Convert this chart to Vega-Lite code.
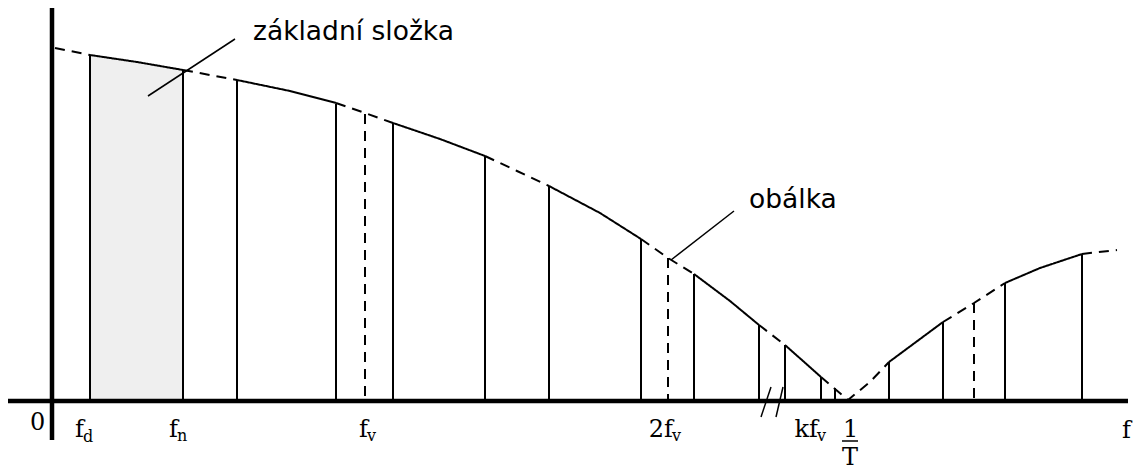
{
  "$schema": "https://vega.github.io/schema/vega-lite/v6.json",
  "width": 1136,
  "height": 470,
  "autosize": {"type": "fit", "contains": "padding"},
  "padding": 0,
  "background": "white",
  "config": {"view": {"stroke": null}},
  "datasets": {
    "shade": [
      {"x": 38, "y": 346}, {"x": 85, "y": 339}, {"x": 131, "y": 331}
    ],
    "lines": [
      {"x": 38, "y": 346, "style": "solid"},
      {"x": 131, "y": 331, "style": "solid"},
      {"x": 185, "y": 321, "style": "solid"},
      {"x": 284, "y": 297, "style": "solid"},
      {"x": 313, "y": 287, "style": "dashed"},
      {"x": 341, "y": 278, "style": "solid"},
      {"x": 433, "y": 245, "style": "solid"},
      {"x": 497, "y": 215, "style": "solid"},
      {"x": 589, "y": 162, "style": "solid"},
      {"x": 616, "y": 143, "style": "dashed"},
      {"x": 642, "y": 127, "style": "solid"},
      {"x": 707, "y": 76, "style": "solid"},
      {"x": 733, "y": 56, "style": "solid"},
      {"x": 769, "y": 24, "style": "solid"},
      {"x": 783, "y": 13, "style": "solid"},
      {"x": 837, "y": 39, "style": "solid"},
      {"x": 891, "y": 79, "style": "solid"},
      {"x": 922, "y": 98, "style": "dashed"},
      {"x": 953, "y": 118, "style": "solid"},
      {"x": 1030, "y": 147, "style": "solid"}
    ],
    "envelope": [
      {"seg": 1, "style": "dashed", "x": 3, "y": 353}, {"seg": 1, "style": "dashed", "x": 38, "y": 346},
      {"seg": 2, "style": "solid", "x": 38, "y": 346}, {"seg": 2, "style": "solid", "x": 85, "y": 339}, {"seg": 2, "style": "solid", "x": 131, "y": 331},
      {"seg": 3, "style": "dashed", "x": 131, "y": 331}, {"seg": 3, "style": "dashed", "x": 185, "y": 321},
      {"seg": 4, "style": "solid", "x": 185, "y": 321}, {"seg": 4, "style": "solid", "x": 238, "y": 310}, {"seg": 4, "style": "solid", "x": 284, "y": 298},
      {"seg": 5, "style": "dashed", "x": 284, "y": 298}, {"seg": 5, "style": "dashed", "x": 313, "y": 288}, {"seg": 5, "style": "dashed", "x": 341, "y": 278},
      {"seg": 6, "style": "solid", "x": 341, "y": 278}, {"seg": 6, "style": "solid", "x": 388, "y": 262}, {"seg": 6, "style": "solid", "x": 433, "y": 245},
      {"seg": 7, "style": "dashed", "x": 433, "y": 245}, {"seg": 7, "style": "dashed", "x": 465, "y": 230}, {"seg": 7, "style": "dashed", "x": 497, "y": 215},
      {"seg": 8, "style": "solid", "x": 497, "y": 215}, {"seg": 8, "style": "solid", "x": 548, "y": 188}, {"seg": 8, "style": "solid", "x": 589, "y": 162},
      {"seg": 9, "style": "dashed", "x": 589, "y": 162}, {"seg": 9, "style": "dashed", "x": 616, "y": 143}, {"seg": 9, "style": "dashed", "x": 642, "y": 127},
      {"seg": 10, "style": "solid", "x": 642, "y": 127}, {"seg": 10, "style": "solid", "x": 678, "y": 100}, {"seg": 10, "style": "solid", "x": 707, "y": 76},
      {"seg": 11, "style": "dashed", "x": 707, "y": 76}, {"seg": 11, "style": "dashed", "x": 733, "y": 56},
      {"seg": 12, "style": "solid", "x": 733, "y": 56}, {"seg": 12, "style": "solid", "x": 769, "y": 24},
      {"seg": 13, "style": "dashed", "x": 769, "y": 24}, {"seg": 13, "style": "dashed", "x": 783, "y": 12}, {"seg": 13, "style": "dashed", "x": 796, "y": 1}, {"seg": 13, "style": "dashed", "x": 818, "y": 19}, {"seg": 13, "style": "dashed", "x": 837, "y": 39},
      {"seg": 14, "style": "solid", "x": 837, "y": 39}, {"seg": 14, "style": "solid", "x": 864, "y": 59}, {"seg": 14, "style": "solid", "x": 891, "y": 79},
      {"seg": 15, "style": "dashed", "x": 891, "y": 79}, {"seg": 15, "style": "dashed", "x": 922, "y": 98}, {"seg": 15, "style": "dashed", "x": 953, "y": 118},
      {"seg": 16, "style": "solid", "x": 953, "y": 118}, {"seg": 16, "style": "solid", "x": 988, "y": 133}, {"seg": 16, "style": "solid", "x": 1030, "y": 147},
      {"seg": 17, "style": "dashed", "x": 1030, "y": 147}, {"seg": 17, "style": "dashed", "x": 1065, "y": 151}
    ],
    "axes": [
      {"x": 0, "y": -39, "x2": 0, "y2": 393},
      {"x": -44, "y": 0, "x2": 1076, "y2": 0}
    ],
    "thin": [
      {"x": 96, "y": 305, "x2": 183, "y2": 362},
      {"x": 682, "y": 190, "x2": 619, "y2": 141},
      {"x": 709, "y": -16, "x2": 719, "y2": 14},
      {"x": 724, "y": -16, "x2": 731, "y2": 14},
      {"x": 790, "y": -40, "x2": 806, "y2": -40}
    ],
    "serif": [
      {"x": -22, "y": -29, "text": "0"},
      {"x": 791, "y": -36, "text": "1"},
      {"x": 790, "y": -64, "text": "T"},
      {"x": 1070, "y": -37, "text": "f"}
    ],
    "mains": [
      {"x": 32, "y": -36, "text": "f"},
      {"x": 126, "y": -36, "text": "f"},
      {"x": 316, "y": -36, "text": "f"},
      {"x": 621, "y": -36, "text": "2f"},
      {"x": 766, "y": -36, "text": "kf"}
    ],
    "subs": [
      {"x": 31, "y": -41, "text": "d"},
      {"x": 125, "y": -40, "text": "n"},
      {"x": 315, "y": -40, "text": "v"},
      {"x": 620, "y": -40, "text": "v"},
      {"x": 765, "y": -40, "text": "v"}
    ],
    "sans": [
      {"x": 201, "y": 361, "text": "základní složka"},
      {"x": 697, "y": 193, "text": "obálka"}
    ]
  },
  "encoding": {
    "x": {"field": "x", "type": "quantitative", "scale": {"domain": [-52, 1084], "nice": false, "zero": false}, "axis": null},
    "y": {"field": "y", "type": "quantitative", "scale": {"domain": [-69, 401], "nice": false, "zero": false}, "axis": null}
  },
  "layer": [
    {
      "data": {"name": "shade"},
      "mark": {"type": "area", "color": "#efefef"},
      "encoding": {"y2": {"datum": 0}}
    },
    {
      "data": {"name": "lines"},
      "mark": {"type": "rule", "color": "black", "strokeWidth": 2},
      "encoding": {
        "y2": {"datum": 0},
        "strokeDash": {"field": "style", "type": "nominal", "scale": {"domain": ["solid", "dashed"], "range": [[1, 0], [10, 7]]}, "legend": null}
      }
    },
    {
      "data": {"name": "envelope"},
      "mark": {"type": "line", "color": "black", "strokeWidth": 2},
      "encoding": {
        "detail": {"field": "seg", "type": "nominal"},
        "strokeDash": {"field": "style", "type": "nominal", "scale": {"domain": ["solid", "dashed"], "range": [[1, 0], [10, 7]]}, "legend": null}
      }
    },
    {
      "data": {"name": "axes"},
      "mark": {"type": "rule", "color": "black", "strokeWidth": 4.5},
      "encoding": {"x2": {"field": "x2"}, "y2": {"field": "y2"}}
    },
    {
      "data": {"name": "thin"},
      "mark": {"type": "rule", "color": "black", "strokeWidth": 1.5},
      "encoding": {"x2": {"field": "x2"}, "y2": {"field": "y2"}}
    },
    {
      "data": {"name": "serif"},
      "mark": {"type": "text", "font": "DejaVu Serif", "fontSize": 24, "align": "left", "baseline": "alphabetic", "color": "black"},
      "encoding": {"text": {"field": "text"}}
    },
    {
      "data": {"name": "mains"},
      "mark": {"type": "text", "font": "DejaVu Serif", "fontSize": 24, "align": "right", "baseline": "alphabetic", "color": "black"},
      "encoding": {"text": {"field": "text"}}
    },
    {
      "data": {"name": "subs"},
      "mark": {"type": "text", "font": "DejaVu Serif", "fontSize": 16, "align": "left", "baseline": "alphabetic", "color": "black"},
      "encoding": {"text": {"field": "text"}}
    },
    {
      "data": {"name": "sans"},
      "mark": {"type": "text", "font": "DejaVu Sans", "fontSize": 26.5, "align": "left", "baseline": "alphabetic", "color": "black"},
      "encoding": {"text": {"field": "text"}}
    }
  ]
}
